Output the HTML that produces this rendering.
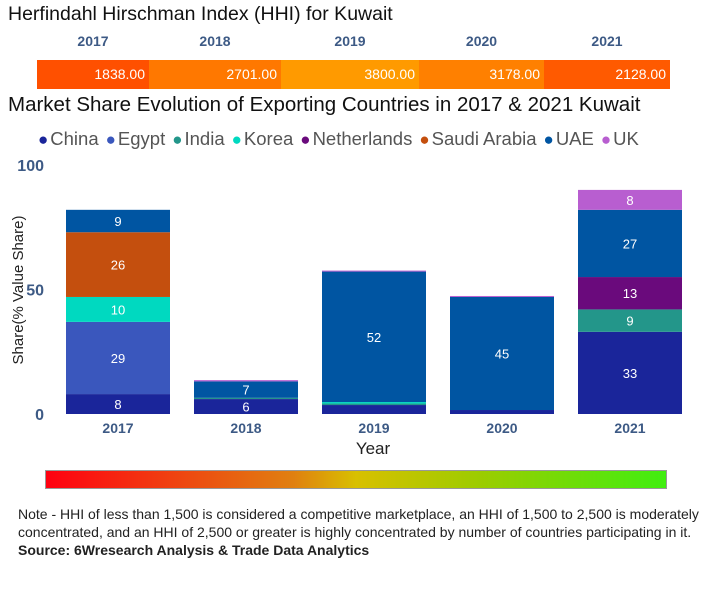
<!DOCTYPE html>
<html><head><meta charset="utf-8"><style>
body{margin:0;width:706px;height:600px;background:#fff;overflow:hidden;font-family:"Liberation Sans",sans-serif;position:relative}
.a{position:absolute;white-space:nowrap}
</style></head><body>
<div class="a" style="left:8px;top:3px;font-size:19.5px;color:#111">Herfindahl Hirschman Index (HHI) for Kuwait</div>
<div id="hhi"></div>
<div class="a" style="left:8px;top:93px;font-size:20.5px;color:#111">Market Share Evolution of Exporting Countries in 2017 &amp; 2021 Kuwait</div>
<div id="legend" class="a" style="left:38px;top:128px;font-size:18.5px;color:#555"></div>
<svg id="chart" width="706" height="460" style="position:absolute;left:0;top:0"></svg>
<div class="a" style="left:45px;top:470px;width:622px;height:19px;background:linear-gradient(90deg,#ff0010,#e08010 40%,#d8c000 50%,#9ccc00 70%,#40ee10);border:1px solid #999;box-sizing:border-box"></div>
<div class="a" style="left:18px;top:505px;font-size:14px;line-height:18px;color:#222">Note - HHI of less than 1,500 is considered a competitive marketplace, an HHI of 1,500 to 2,500 is moderately<br>concentrated, and an HHI of 2,500 or greater is highly concentrated by number of countries participating in it.<br><b>Source: 6Wresearch Analysis &amp; Trade Data Analytics</b></div>
<script>
const hhiYears=['2017','2018','2019','2020','2021'];
const hhiValues=[1838,2701,3800,3178,2128];
const years=['2017','2018','2019','2020','2021'];
const countries=['China','Egypt','India','Korea','Netherlands','Saudi Arabia','UAE','UK'];
const colors=['#1a259a','#3a57bd','#23968a','#00d9c0','#6a0a7c','#c44f0e','#0055a2','#b85ed0'];
const China=[8,6,3.6,1.6,33];
const Egypt=[29,0,0,0,0];
const India=[0,0.5,0.6,0,9];
const Korea=[10,0,0.6,0,0];
const Netherlands=[0,0,0,0,13];
const SaudiArabia=[26,0,0,0,0];
const UAE=[9,6.6,52.4,45.4,27];
const UK=[0,0.5,0.4,0.4,8];
const series=[China,Egypt,India,Korea,Netherlands,SaudiArabia,UAE,UK];
const yTicks=[0,50,100];
const NS='http://www.w3.org/2000/svg';
const hhi=document.getElementById('hhi');
const hx=[37,149,281,419,544,670];
const hcol=['#ff5000','#ff7800','#ff9a00','#ff8000','#ff5a00'];
hhiValues.forEach((v,i)=>{
 const y=document.createElement('div');y.className='a';
 
 
 y.style.cssText=`left:${hx[i]}px;width:${hx[i+1]-hx[i]}px;top:33px;text-align:center;font:bold 14px "Liberation Sans",sans-serif;color:#3d5a85`;
 y.textContent=hhiYears[i];hhi.appendChild(y);
 const s=document.createElement('div');s.className='a';
 
 
 s.style.cssText=`left:${hx[i]}px;width:${hx[i+1]-hx[i]}px;top:60px;height:29px;background:${hcol[i]};color:#fff;font-size:14px;line-height:29px;text-align:right;padding-right:4px;box-sizing:border-box`;
 s.textContent=v.toFixed(2);hhi.appendChild(s);
});
const lg=document.getElementById('legend');
countries.forEach((c,i)=>{
 const e=document.createElement('span');
 
 
 e.style.marginRight='7px';
 e.innerHTML=`<span style="color:${colors[i]};font-size:17px;margin-right:2px">●</span>${c}`;
 lg.appendChild(e);
});
const svg=document.getElementById('chart');
const y0=414,pxPer=2.49,x0=118,step=128,bw=104;
const yS=v=>y0-v*pxPer;
const xC=i=>x0+i*step;
function t(x,y,s,st,name){const e=document.createElementNS(NS,'text');e.setAttribute('x',x);e.setAttribute('y',y);e.setAttribute('style',st);e.setAttribute('text-anchor','middle');e.textContent=s;


svg.appendChild(e);return e;}
yTicks.forEach(v=>{t(44,yS(v)+6,v,'font:bold 16px "Liberation Sans",sans-serif;fill:#3d5a85','y-tick-label').setAttribute('text-anchor','end');});
years.forEach((yr,i)=>{
 let acc=0;
 series.forEach((s,k)=>{
  const v=s[i];if(!v)return;
  const r=document.createElementNS(NS,'rect');
  r.setAttribute('x',xC(i)-bw/2);r.setAttribute('width',bw);
  r.setAttribute('y',yS(acc+v));r.setAttribute('height',v*pxPer);
  r.setAttribute('fill',colors[k]);
  
  
  svg.appendChild(r);
  if(v>=5)t(xC(i),yS(acc+v/2)+5,Math.round(v),'font-size:13px;fill:#fff;font-family:"Liberation Sans",sans-serif','bar-value-label');
  acc+=v;
 });
 t(xC(i),433,yr,'font:bold 14px "Liberation Sans",sans-serif;fill:#3d5a85','x-tick-label');
});
t(373,454,'Year','font-size:17px;fill:#222;font-family:"Liberation Sans",sans-serif','x-axis-title');
const yt=t(0,0,'Share(% Value Share)','font-size:15px;fill:#222;font-family:"Liberation Sans",sans-serif','y-axis-title');
yt.setAttribute('transform','translate(23,290) rotate(-90)');
</script>
</body></html>
